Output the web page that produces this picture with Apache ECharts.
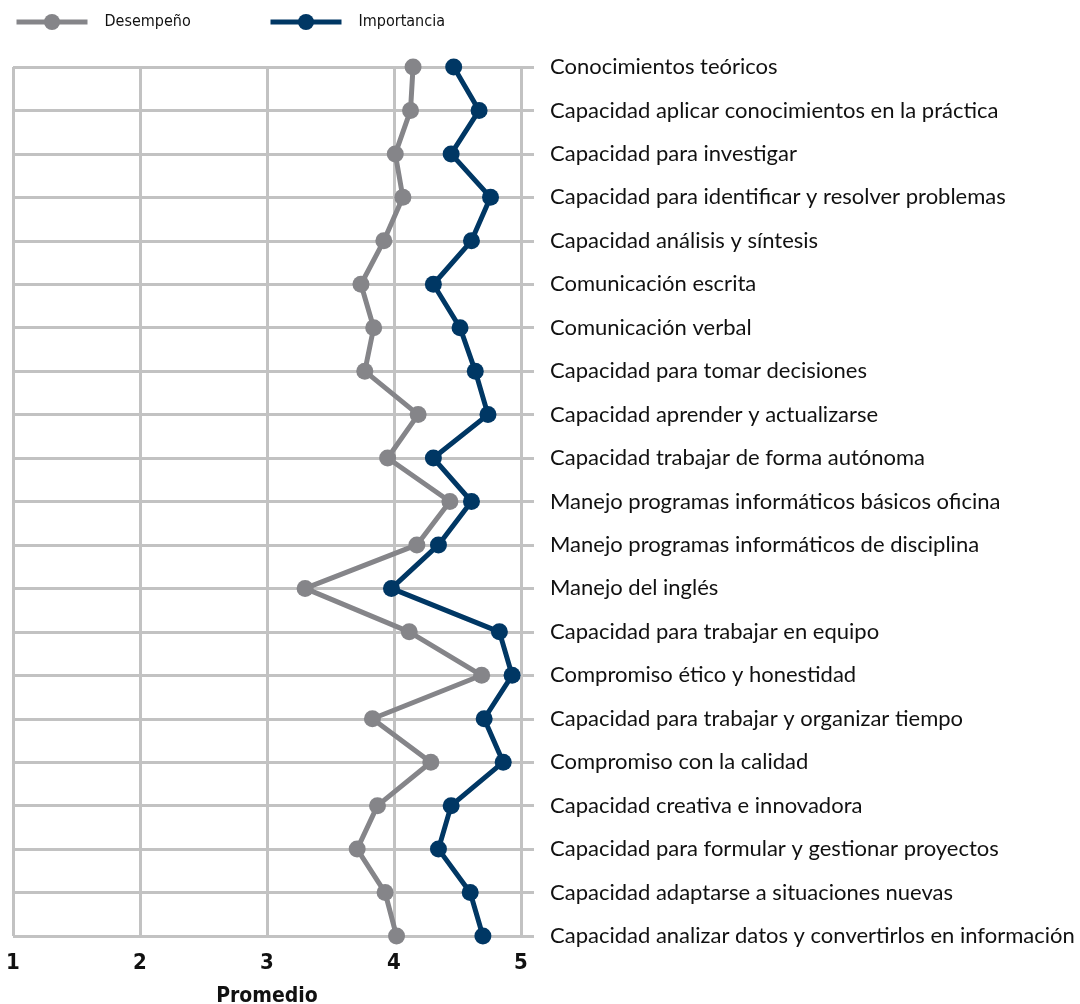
<!DOCTYPE html>
<html><head><meta charset="utf-8">
<script src="https://cdn.jsdelivr.net/npm/echarts@6/dist/echarts.min.js"></script>
<style>html,body{margin:0;padding:0;background:#fff}#c{width:1080px;height:1004px}</style>
</head><body><div id="c"></div>
<script>
const categories = [
  'Conocimientos teóricos',
  'Capacidad aplicar conocimientos en la práctica',
  'Capacidad para investigar',
  'Capacidad para identificar y resolver problemas',
  'Capacidad análisis y síntesis',
  'Comunicación escrita',
  'Comunicación verbal',
  'Capacidad para tomar decisiones',
  'Capacidad aprender y actualizarse',
  'Capacidad trabajar de forma autónoma',
  'Manejo programas informáticos básicos oficina',
  'Manejo programas informáticos de disciplina',
  'Manejo del inglés',
  'Capacidad para trabajar en equipo',
  'Compromiso ético y honestidad',
  'Capacidad para trabajar y organizar tiempo',
  'Compromiso con la calidad',
  'Capacidad creativa e innovadora',
  'Capacidad para formular y gestionar proyectos',
  'Capacidad adaptarse a situaciones nuevas',
  'Capacidad analizar datos y convertirlos en información'
];
const desempeno = [4.15,4.13,4.01,4.07,3.92,3.74,3.84,3.77,4.19,3.95,4.44,4.18,3.30,4.12,4.69,3.83,4.29,3.87,3.71,3.93,4.02];
const importancia = [4.47,4.67,4.45,4.76,4.61,4.31,4.52,4.64,4.74,4.31,4.61,4.35,3.98,4.83,4.93,4.71,4.86,4.45,4.35,4.60,4.70];
const xTicks = [1,2,3,4,5];
const seriesNames = ['Desempeño','Importancia'];

const GRID = '#c2c2c2';
const GRAY = '#858589';
const NAVY = '#003764';
const COND = "'Liberation Sans Narrow','DejaVu Sans Condensed',sans-serif";

const legendCommon = {top:14, padding:0, itemWidth:71, itemHeight:20,
  lineStyle:{width:5},
  textStyle:{fontFamily:COND, fontSize:16, color:'#111', padding:[0,0,0,12]}};

const chart = echarts.init(document.getElementById('c'));
chart.setOption({
  animation:false,
  legend:[
    Object.assign({data:[seriesNames[0]], left:14}, legendCommon),
    Object.assign({data:[seriesNames[1]], left:268}, legendCommon)
  ],
  grid:{left:13, right:559, top:67, bottom:68, containLabel:false, outerBoundsMode:'none'},
  xAxis:{
    type:'value', min:xTicks[0], max:xTicks[xTicks.length-1], interval:1,
    name:'Promedio', nameLocation:'middle', nameGap:50,
    nameTextStyle:{fontFamily:COND, fontWeight:'bold', fontSize:21, color:'#111'},
    axisLine:{show:false}, axisTick:{show:false},
    axisLabel:{fontFamily:COND, fontWeight:'bold', fontSize:22, color:'#111', margin:16},
    splitLine:{show:true, lineStyle:{color:GRID, width:3}}
  },
  yAxis:{
    type:'category', data:categories, inverse:true, boundaryGap:false, position:'right',
    axisLine:{show:false},
    axisTick:{show:true, length:13, lineStyle:{color:GRID, width:3}},
    axisLabel:{fontFamily:"'Lato','Open Sans',sans-serif", fontSize:22, color:'#111', margin:29},
    splitLine:{show:true, lineStyle:{color:GRID, width:3}}
  },
  series:[
    {name:seriesNames[0], type:'line', data:desempeno.map((v,i)=>[v,categories[i]]),
     symbol:'circle', symbolSize:17, lineStyle:{color:GRAY, width:5}, itemStyle:{color:GRAY}},
    {name:seriesNames[1], type:'line', data:importancia.map((v,i)=>[v,categories[i]]),
     symbol:'circle', symbolSize:17, lineStyle:{color:NAVY, width:5}, itemStyle:{color:NAVY}}
  ]
});
</script></body></html>
